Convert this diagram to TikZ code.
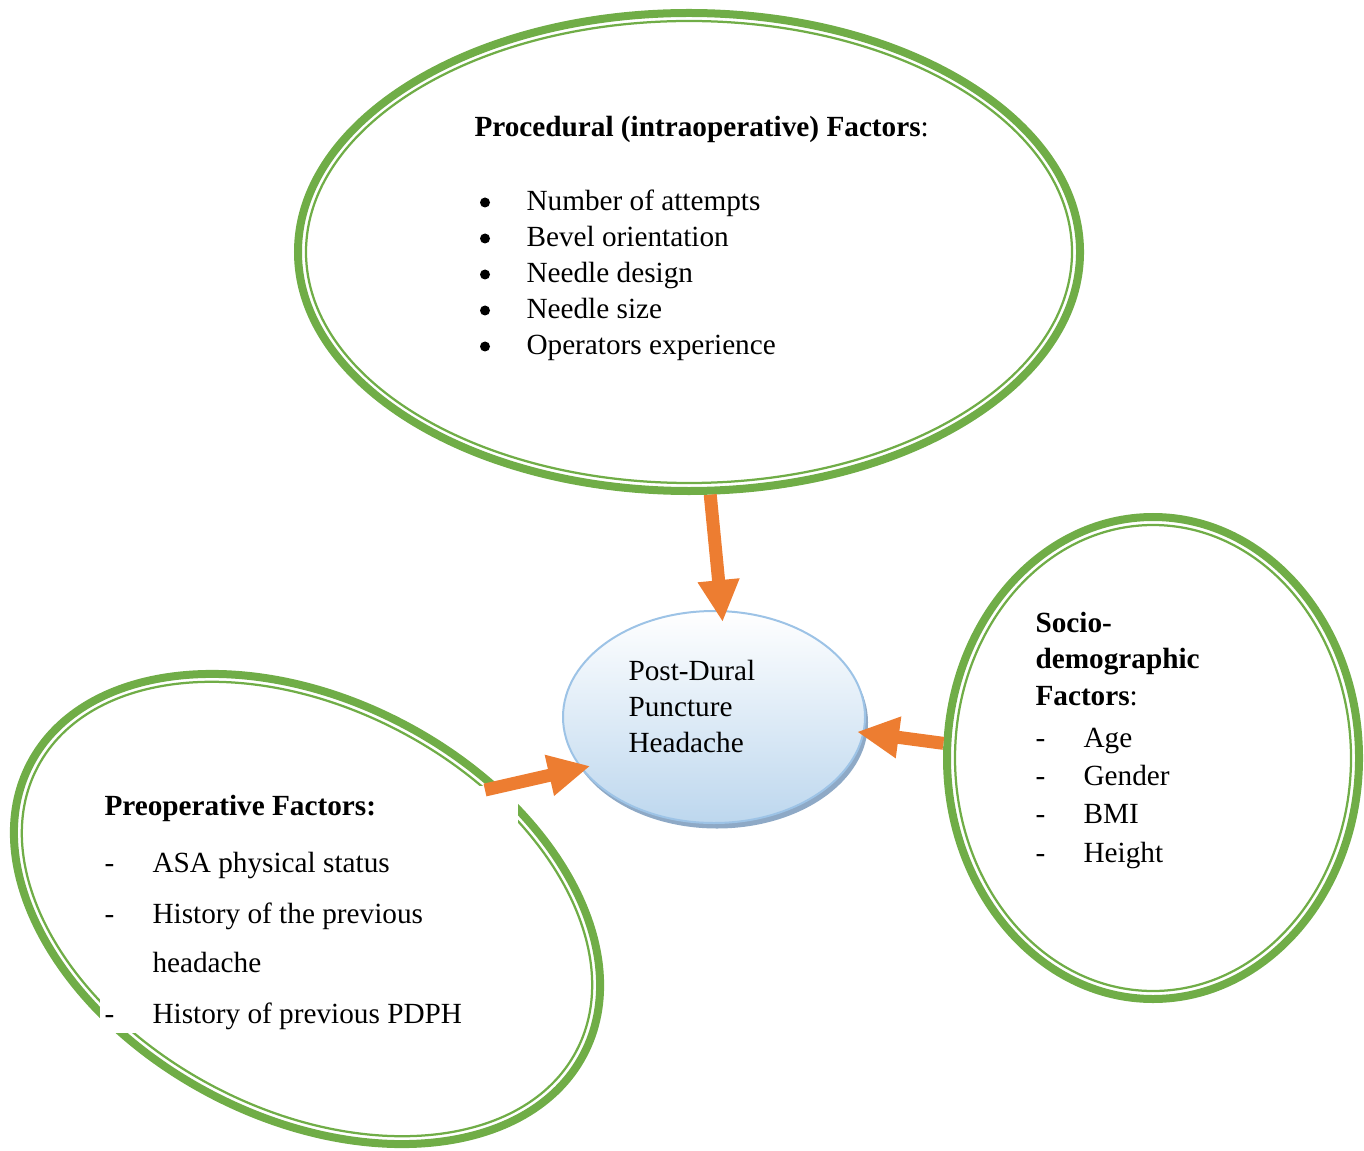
\documentclass[tikz,border=0pt]{standalone}
\usepackage{fontspec}
\setmainfont{Liberation Serif}
\usetikzlibrary{shapes.geometric,arrows.meta,shadows}
\definecolor{grn}{HTML}{70AD47}
\definecolor{org}{HTML}{ED7D31}
\definecolor{bbord}{HTML}{9DC3E6}
\definecolor{bfill}{HTML}{BDD7EE}
\definecolor{bshadow}{HTML}{8EA9C6}
\begin{document}
\begin{tikzpicture}[x=0.4pt,y=-0.4pt,
  outerring/.style={ellipse, draw=grn, line width=3.2pt, inner sep=0pt},
  innerring/.style={ellipse, draw=grn, line width=0.9pt, inner sep=0pt},
  txt/.style={anchor=base west, inner sep=0pt, font=\fontsize{11.7}{14}\selectfont},
  bul/.style={circle, fill=black, inner sep=0pt, minimum size=4pt},
  arr/.style={draw=org, line width=5.2pt, -{Triangle[length=16.8pt,width=15.6pt]}}]
\useasboundingbox (0,0) rectangle (1364,1151);

% procedural (top)
\node[outerring, minimum width=312.8pt, minimum height=191.2pt] (top) at (689,252) {};
\node[innerring, minimum width=306.4pt, minimum height=184.8pt] (topin) at (689,252) {};

% socio-demographic (right)
\node[outerring, minimum width=164.8pt, minimum height=192.8pt] (soc) at (1153,758) {};
\node[innerring, minimum width=158.4pt, minimum height=186.4pt] (socin) at (1153,758) {};

% preoperative (left, tilted)
\node[outerring, rotate=-27.8, minimum width=250pt, minimum height=166.8pt] (pre) at (307,909) {};
\node[innerring, rotate=-27.8, minimum width=243.6pt, minimum height=160.4pt] (prein) at (307,909) {};
% white text box of the preoperative list
\node[fill=white, inner sep=0pt, anchor=north west, minimum width=167.2pt, minimum height=98.8pt] (prebox) at (99,785) {};

% centre
\node[ellipse, draw=bbord, line width=0.8pt, top color=white, bottom color=bfill,
      minimum width=120.8pt, minimum height=84.8pt, inner sep=0pt,
      drop shadow={shadow xshift=1.2pt, shadow yshift=-2.2pt, fill=bshadow, opacity=1}] (ctr) at (714,717) {};

% arrows
\coordinate (preA) at (485,790);
\draw[arr, shorten >=-4.8pt] (top.-85.3) -- (ctr.86.4);
\draw[arr, shorten >=-3pt] (soc.176.7) -- (ctr.-6.3);
\draw[arr, shorten >=-4pt] (preA) -- (ctr.201.2);

% centre text
\node[txt] (c1) at (628,680) {Post-Dural};
\node[txt] (c2) at (628,716) {Puncture};
\node[txt] (c3) at (628,752) {Headache};

% top text
\node[txt] (t0) at (474,137) {\textbf{Procedural (intraoperative) Factors}:};
\node[bul] (tb1) at (485,202.5) {};
\node[bul] (tb2) at (485,238.5) {};
\node[bul] (tb3) at (485,274.5) {};
\node[bul] (tb4) at (485,310.5) {};
\node[bul] (tb5) at (485,346.5) {};
\node[txt] (t1) at (526,211) {Number of attempts};
\node[txt] (t2) at (526,247) {Bevel orientation};
\node[txt] (t3) at (526,283) {Needle design};
\node[txt] (t4) at (526,319) {Needle size};
\node[txt] (t5) at (526,355) {Operators experience};

% left text
\node[txt] (l0) at (104,815) {\textbf{Preoperative Factors:}};
\node[txt] (ld1) at (104,872) {-};
\node[txt] (ld2) at (104,923) {-};
\node[txt] (ld4) at (104,1023) {-};
\node[txt] (l1) at (152,872) {ASA physical status};
\node[txt] (l2) at (152,923) {History of the previous};
\node[txt] (l3) at (152,972) {headache};
\node[txt] (l4) at (152,1023) {History of previous PDPH};

% right text
\node[txt] (r0) at (1035,632) {\textbf{Socio-}};
\node[txt] (r0b) at (1035,668) {\textbf{demographic}};
\node[txt] (r0c) at (1035,705) {\textbf{Factors}:};
\node[txt] (rd1) at (1035,747) {-};
\node[txt] (rd2) at (1035,785) {-};
\node[txt] (rd3) at (1035,823) {-};
\node[txt] (rd4) at (1035,862) {-};
\node[txt] (r1) at (1083,747) {Age};
\node[txt] (r2) at (1083,785) {Gender};
\node[txt] (r3) at (1083,823) {BMI};
\node[txt] (r4) at (1083,862) {Height};
\end{tikzpicture}
\end{document}
